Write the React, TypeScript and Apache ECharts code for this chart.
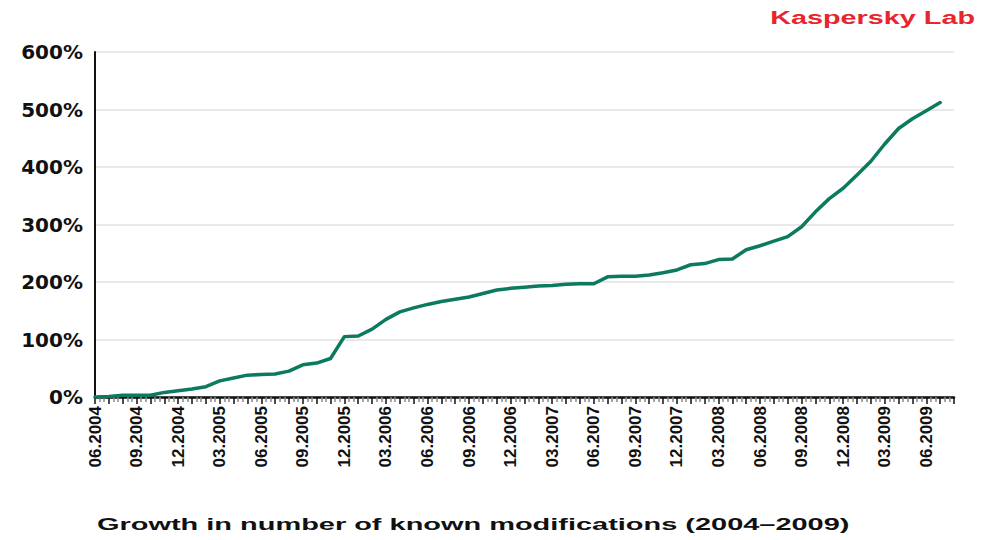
import React, { useEffect, useRef } from "react";
import * as echarts from "echarts";

const monthLabels: string[] = [
  "06.2004", "07.2004", "08.2004", "09.2004", "10.2004", "11.2004", "12.2004",
  "01.2005", "02.2005", "03.2005", "04.2005", "05.2005", "06.2005", "07.2005", "08.2005", "09.2005", "10.2005", "11.2005", "12.2005",
  "01.2006", "02.2006", "03.2006", "04.2006", "05.2006", "06.2006", "07.2006", "08.2006", "09.2006", "10.2006", "11.2006", "12.2006",
  "01.2007", "02.2007", "03.2007", "04.2007", "05.2007", "06.2007", "07.2007", "08.2007", "09.2007", "10.2007", "11.2007", "12.2007",
  "01.2008", "02.2008", "03.2008", "04.2008", "05.2008", "06.2008", "07.2008", "08.2008", "09.2008", "10.2008", "11.2008", "12.2008",
  "01.2009", "02.2009", "03.2009", "04.2009", "05.2009", "06.2009", "07.2009", "08.2009",
];

// growth in % per month, 06.2004 .. 07.2009
const growthValues: number[] = [
  0, 1, 3, 3, 3, 8, 11,
  14, 18, 28, 33, 38, 39, 40, 45, 56, 59, 67, 105,
  106, 118, 135, 148, 155, 161, 166, 170, 174, 180, 186, 189,
  191, 193, 194, 196, 197, 197, 209, 210, 210, 212, 216, 221,
  230, 232, 239, 240, 256, 263, 271, 279, 296, 322, 345, 363,
  386, 410, 440, 467, 484, 498, 512,
];

const yTicks = { min: 0, max: 600, step: 100 };

const titleText = "Growth in number of known modifications (2004\u20132009)";
const brandText = "Kaspersky Lab";

export default function App() {
  const ref = useRef<HTMLDivElement>(null);

  useEffect(() => {
    if (!ref.current) return;
    const chart = echarts.init(ref.current, undefined, { renderer: "svg" });
    const data = growthValues.map((v, i) => [i, v]);
    chart.setOption({
      animation: false,
      backgroundColor: "#ffffff",
      grid: { left: 95, right: 31, top: 52, bottom: 143, containLabel: false },
      xAxis: {
        type: "value",
        min: 0,
        max: monthLabels.length - 1,
        interval: 1,
        axisLine: { show: true, lineStyle: { color: "#111", width: 2.5 } },
        axisTick: { show: true, length: 7, lineStyle: { color: "#111", width: 1.5 } },
        minorTick: { show: true, splitNumber: 3, length: 5, lineStyle: { color: "#8a8a8a", width: 1.5 } },
        splitLine: { show: false },
        axisLabel: {
          rotate: 90,
          margin: 9,
          fontFamily: "Liberation Sans, Arial, sans-serif",
          fontWeight: "bold",
          fontSize: 17,
          color: "#111",
          formatter: (v: number) => (v % 3 === 0 ? monthLabels[v] || "" : ""),
        },
      },
      yAxis: {
        type: "value",
        min: yTicks.min,
        max: yTicks.max,
        interval: yTicks.step,
        axisLine: { show: true, lineStyle: { color: "#111", width: 2 } },
        axisTick: { show: false },
        splitLine: { show: true, lineStyle: { color: "#e2e2e2", width: 1.5 } },
        axisLabel: {
          margin: 12,
          fontFamily: "DejaVu Sans, sans-serif",
          fontWeight: "bold",
          fontSize: 20,
          color: "#111",
          formatter: "{value}%",
        },
      },
      series: [
        {
          type: "line",
          data,
          symbol: "none",
          lineStyle: { color: "#0b7a5e", width: 3.5, join: "round", cap: "round" },
        },
      ],
      graphic: [
        {
          type: "text",
          x: 975,
          y: 18,
          scaleX: 1.6,
          style: {
            text: brandText,
            fill: "#e8242c",
            font: "bold 18px 'Liberation Sans', Arial, sans-serif",
            textAlign: "right",
            textVerticalAlign: "middle",
          },
        },
        {
          type: "text",
          x: 97,
          y: 525,
          scaleX: 1.81,
          style: {
            text: titleText,
            fill: "#111",
            font: "bold 16px 'Liberation Sans', Arial, sans-serif",
            textAlign: "left",
            textVerticalAlign: "middle",
          },
        },
      ],
    });
    return () => chart.dispose();
  }, []);

  return (
    <div
      ref={ref}
      style={{ position: "absolute", left: 0, top: 0, width: 985, height: 540 }}
    />
  );
}
